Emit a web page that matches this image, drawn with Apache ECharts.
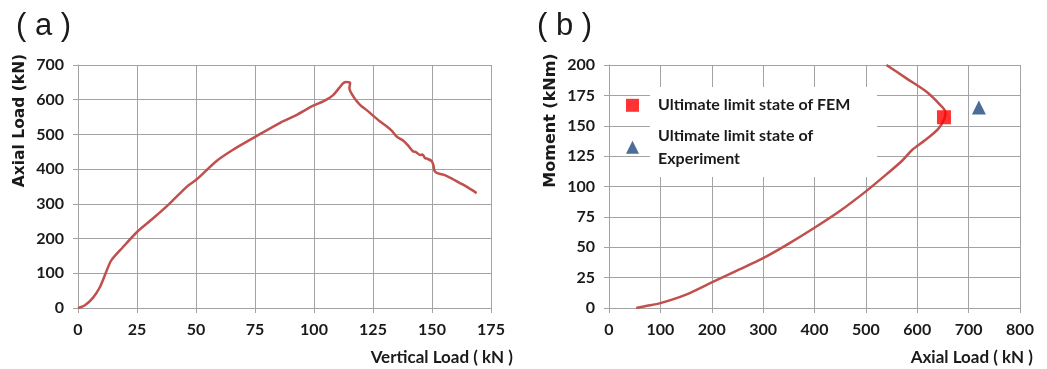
<!DOCTYPE html>
<html>
<head>
<meta charset="utf-8">
<script src="https://cdn.jsdelivr.net/npm/echarts@6/dist/echarts.min.js"></script>
<style>
  html, body { margin: 0; padding: 0; background: #fff; }
  #chart { width: 1047px; height: 369px; }
</style>
</head>
<body>
<div id="chart"></div>
<script>
// ---- Panel (a): Axial load vs vertical load ----
const verticalLoadA = [0, 2.8, 6.4, 9.2, 11.3, 14.1, 19.0, 25, 31.6, 38.7, 46.4, 50.2, 58.6, 65.7, 75.6, 86.0, 91.2, 99.7, 103.9, 108.2, 112.4, 113.8, 115.3, 115.0, 116.7, 119.5, 122.3, 128.0, 131.0, 133.0, 135.0, 138.0, 140.0, 142.0, 143.0, 144.9, 146.0, 147.0, 148.0, 149.9, 150.6, 151.0, 152.0, 154.8, 158.0, 161.8, 165.0, 168.9];
const axialLoadA    = [0, 7, 30, 59, 93, 137, 175, 219, 257, 300, 351, 370, 423, 456, 495, 535, 551, 583, 595, 614, 648, 651, 648, 633, 609, 585, 570, 537, 522, 510, 494, 481, 467, 451, 450, 441, 442, 432, 430, 423, 411, 396, 389, 384, 374, 360, 348, 331];
const xTicksA = { min: 0, max: 175, interval: 25 };
const yTicksA = { min: 0, max: 700, interval: 100 };

// ---- Panel (b): Moment vs axial load ----
const axialLoadB = [53, 70, 100, 150, 200, 250, 300, 350, 400, 450, 500, 540, 570, 590, 615, 640, 652, 655, 645, 618, 579, 540];
const momentB    = [0, 1.5, 4, 11, 21, 31, 41, 53, 66, 80, 96, 110, 121, 130, 138, 147, 155, 161, 167, 178, 189, 200];
const femPoint = [652, 157];
const expPoint = [720, 165];
const xTicksB = { min: 0, max: 800, interval: 100 };
const yTicksB = { min: 0, max: 200, interval: 25 };

const femName = 'Ultimate limit state of FEM';
const expName = 'Ultimate limit state of\nExperiment';

const zip = (a, b) => a.map((v, i) => [v, b[i]]);

const FONT = 'Lato';
const GRIDC = '#a3a3a3';
const TXT = '#1a1a1a';
const LINE = '#c0504d';

function valAxis(t, extra) {
  return Object.assign({
    type: 'value', min: t.min, max: t.max, interval: t.interval,
    axisLine: { show: true, lineStyle: { color: GRIDC, width: 1 } },
    axisTick: { show: true, length: 5, lineStyle: { color: GRIDC } },
    splitLine: { show: true, lineStyle: { color: GRIDC, width: 1 } },
    axisLabel: { color: TXT, fontFamily: FONT, fontWeight: 'bold', fontSize: 16, margin: 14 },
    nameTextStyle: { color: TXT, fontFamily: FONT, fontWeight: 'bold', fontSize: 16 }
  }, extra);
}

const xNameStyle = { color: TXT, fontFamily: FONT, fontWeight: 'bold', fontSize: 17, align: 'right', verticalAlign: 'top', padding: [41, 0, 0, 0] };

const chart = echarts.init(document.getElementById('chart'), null, { renderer: 'canvas' });
chart.setOption({
  animation: false,
  backgroundColor: '#fff',
  title: [
    { text: '( a )', left: 11, top: 6, textStyle: { fontFamily: 'Liberation Sans', fontWeight: 'normal', fontSize: 31, color: TXT } },
    { text: '( b )', left: 532, top: 6, textStyle: { fontFamily: 'Liberation Sans', fontWeight: 'normal', fontSize: 31, color: TXT } }
  ],
  grid: [
    { left: 78, right: 556, top: 65, bottom: 61 },
    { left: 609, right: 27, top: 65, bottom: 61 }
  ],
  xAxis: [
    valAxis(xTicksA, { gridIndex: 0, name: 'Vertical Load ( kN )', nameLocation: 'end', nameGap: 22, nameTextStyle: xNameStyle }),
    valAxis(xTicksB, { gridIndex: 1, name: 'Axial Load ( kN )', nameLocation: 'end', nameGap: 13, nameTextStyle: xNameStyle })
  ],
  yAxis: [
    valAxis(yTicksA, { gridIndex: 0, name: 'Axial Load (kN)', nameLocation: 'middle', nameGap: 50, nameRotate: 90,
      nameTextStyle: { color: TXT, fontFamily: 'DejaVu Sans', fontWeight: 'bold', fontSize: 15.5, padding: [0, 0, 0, 132] } }),
    valAxis(yTicksB, { gridIndex: 1, name: 'Moment (kNm)', nameLocation: 'middle', nameGap: 50, nameRotate: 90,
      nameTextStyle: { color: TXT, fontFamily: 'DejaVu Sans', fontWeight: 'bold', fontSize: 16, padding: [0, 0, 0, 132] } })
  ],
  legend: {
    orient: 'vertical', left: 626, top: 94, padding: 0, itemGap: 8,
    itemWidth: 13, itemHeight: 13,
    textStyle: { color: TXT, fontFamily: FONT, fontWeight: 'bold', fontSize: 16, lineHeight: 22.6, padding: [0, 0, 0, 14] },
    data: [
      { name: femName, icon: 'rect' },
      { name: expName, icon: 'triangle' }
    ]
  },
  graphic: [
    { type: 'rect', z: 1, silent: true, shape: { x: 650, y: 87, width: 227, height: 90 }, style: { fill: '#fff' } }
  ],
  series: [
    { type: 'line', xAxisIndex: 0, yAxisIndex: 0, data: zip(verticalLoadA, axialLoadA), showSymbol: false, smooth: 0.25,
      lineStyle: { color: LINE, width: 2.5 }, itemStyle: { color: LINE }, z: 3 },
    { type: 'line', xAxisIndex: 1, yAxisIndex: 1, data: zip(axialLoadB, momentB), showSymbol: false, smooth: 0.3,
      lineStyle: { color: LINE, width: 2.5 }, itemStyle: { color: LINE }, z: 3 },
    { type: 'scatter', name: femName, xAxisIndex: 1, yAxisIndex: 1, data: [femPoint], symbol: 'rect', symbolSize: 14,
      itemStyle: { color: '#ff0000' }, z: 5 },
    { type: 'scatter', name: expName, xAxisIndex: 1, yAxisIndex: 1, data: [expPoint], symbol: 'triangle', symbolSize: 14,
      itemStyle: { color: '#1f497d' }, z: 5 }
  ]
});
</script>
</body>
</html>
